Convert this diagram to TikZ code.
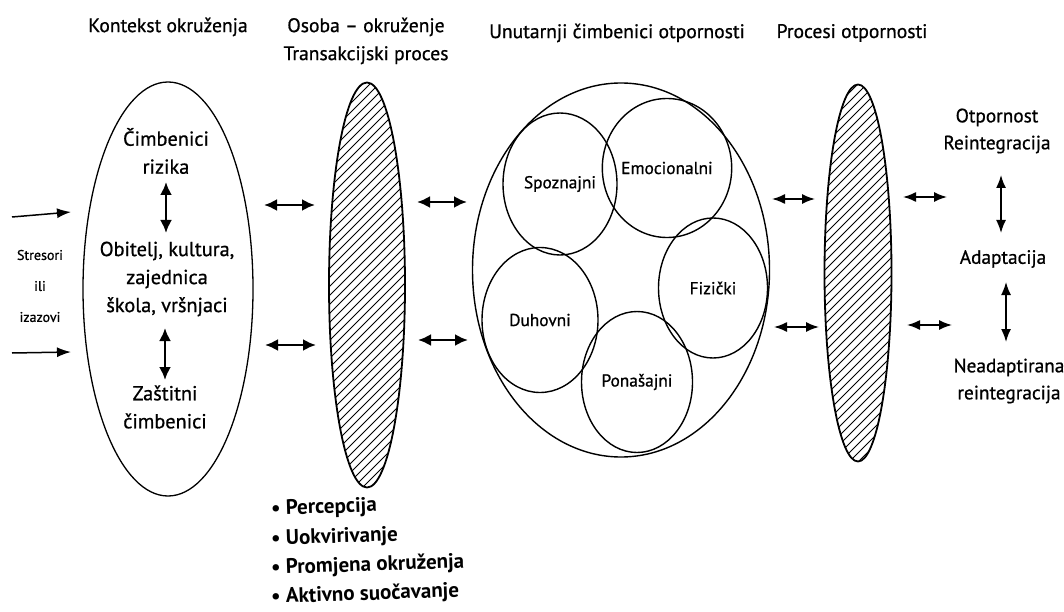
\documentclass[tikz,border=0pt]{standalone}
\usepackage{fontspec}
\setmainfont{PT Sans}[UprightFeatures={FakeBold=0.8}]
\usetikzlibrary{shapes.geometric,arrows.meta}
\tikzset{
  hdr/.style={font=\fontsize{19.6}{28}\selectfont, align=center, inner sep=0pt},
  body/.style={font=\fontsize{20.3}{28}\selectfont, align=center, inner sep=0pt},
  rbody/.style={font=\fontsize{19.3}{27}\selectfont, align=center, inner sep=0pt},
  smalltxt/.style={font=\fontsize{14}{31}\selectfont, align=center, inner sep=0pt},
  clbl/.style={font=\fontsize{17.3}{20}\selectfont},
  bul/.style={font=\bfseries\fontsize{21}{24}\selectfont, inner sep=0pt, anchor=west, rotate=2},
  shell/.style={draw, ellipse, inner sep=0pt, line width=1.3pt},
  ring/.style={draw, ellipse, inner sep=0pt, line width=1.4pt},
  hatchshape/.style={draw, ellipse, inner sep=0pt, line width=1.8pt,
    path picture={
      \foreach \k in {-270,-261,...,270}{
        \draw[line width=0.8pt] ([yshift=\k pt]path picture bounding box.center) ++(-120pt,-120pt) -- ++(240pt,240pt);
      }}},
  tw/.style={{Latex[length=13pt,width=12pt]}-{Latex[length=13pt,width=12pt]}, line width=2.4pt},
  twthin/.style={{Latex[length=13pt,width=10pt]}-{Latex[length=13pt,width=10pt]}, line width=1.6pt},
  inarrow/.style={-{Latex[length=14pt,width=10pt]}, line width=1.5pt},
}
\begin{document}
\begin{tikzpicture}[x=1pt,y=-1pt]
\useasboundingbox (0,0) rectangle (1064,612);
\fill[white] (0,0) rectangle (1064,612);

% headers
\node[hdr] (t1) at (168,27) {Kontekst okruženja};
\node[hdr] (t2) at (366,41) {Osoba – okruženje\\Transakcijski proces};
\node[hdr] (t3) at (617,33) {Unutarnji čimbenici otpornosti};
\node[hdr] (t4) at (852,33) {Procesi otpornosti};

% main shapes
\node[shell, minimum width=170pt, minimum height=414pt] (ctx) at (168,289) {};
\node[hatchshape, minimum width=76pt, minimum height=405pt] (pe) at (367,285) {};
\node[ring, minimum width=297pt, minimum height=374pt] (inner) at (621,270) {};
\node[ring, clbl, minimum width=114pt, minimum height=142pt] (sp) at (560,184) {Spoznajni};
\node[ring, clbl, minimum width=109pt, minimum height=139pt] (em) at (667,168) {Emocionalni};
\node[ring, clbl, minimum width=109pt, minimum height=140pt] (fi) at (713,288) {Fizički};
\node[ring, clbl, minimum width=116pt, minimum height=145pt] (du) at (540,320) {Duhovni};
\node[ring, clbl, minimum width=111pt, minimum height=141pt] (po) at (637,382) {Ponašajni};
\node[hatchshape, minimum width=67pt, minimum height=377pt] (proc) at (858,273) {};

% text in context ellipse
\node[body] (risk) at (166,151) {Čimbenici\\rizika};
\node[body] (fam) at (167,279) {Obitelj, kultura,\\zajednica\\škola, vršnjaci};
\node[body] (prot) at (165,407) {Zaštitni\\čimbenici};

% stressors
\node[smalltxt] (str) at (40,286) {Stresori\\ili\\izazovi};

% outcomes
\node[rbody] (out1) at (997,131) {Otpornost\\Reintegracija};
\node[rbody] (out2) at (1003,259) {Adaptacija};
\node[rbody] (out3) at (1009,381) {Neadaptirana\\reintegracija};

% bullets
\node[bul] (b1) at (271,510) {• Percepcija};
\node[bul] (b2) at (271,540) {• Uokvirivanje};
\node[bul] (b3) at (271,569) {• Promjena okruženja};
\node[bul] (b4) at (271,598) {• Aktivno suočavanje};

% arrow end points
\coordinate (s1a) at (12,217);  \coordinate (s1b) at (71,212);
\coordinate (s2a) at (12,353);  \coordinate (s2b) at (71,352);
\coordinate (v1a) at (166,182); \coordinate (v1b) at (166,233);
\coordinate (v2a) at (165,328); \coordinate (v2b) at (165,380);
\coordinate (h1a) at (264,205); \coordinate (h1b) at (315,205);
\coordinate (h2a) at (265,345); \coordinate (h2b) at (316,345);
\coordinate (h3a) at (417,202); \coordinate (h3b) at (467,202);
\coordinate (h4a) at (418,340); \coordinate (h4b) at (468,340);
\coordinate (h5a) at (772,199); \coordinate (h5b) at (815,199);
\coordinate (h6a) at (774,327); \coordinate (h6b) at (819,327);
\coordinate (h7a) at (903,197); \coordinate (h7b) at (947,197);
\coordinate (h8a) at (907,325); \coordinate (h8b) at (952,325);
\coordinate (r1a) at (1001,175); \coordinate (r1b) at (1001,233);
\coordinate (r2a) at (1006,282); \coordinate (r2b) at (1006,342);

\draw[inarrow] (s1a) -- (s1b);
\draw[inarrow] (s2a) -- (s2b);
\draw[tw] (v1a) -- (v1b);
\draw[tw] (v2a) -- (v2b);
\draw[tw] (h1a) -- (h1b);
\draw[tw] (h2a) -- (h2b);
\draw[tw] (h3a) -- (h3b);
\draw[tw] (h4a) -- (h4b);
\draw[twthin] (h5a) -- (h5b);
\draw[twthin] (h6a) -- (h6b);
\draw[twthin] (h7a) -- (h7b);
\draw[twthin] (h8a) -- (h8b);
\draw[twthin] (r1a) -- (r1b);
\draw[twthin] (r2a) -- (r2b);
\end{tikzpicture}
\end{document}
